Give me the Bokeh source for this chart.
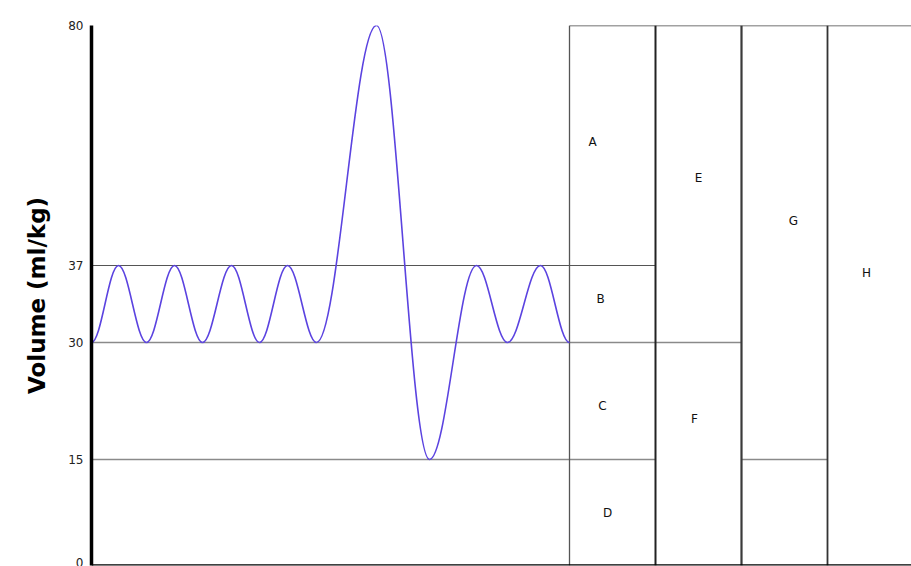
import numpy as np
from bokeh.plotting import figure
from bokeh.models import FixedTicker, Span, Range1d
from bokeh.core.properties import value
from bokeh.embed import file_html
from bokeh.resources import INLINE

# ---- data ----
# volume levels shown on the axis (ml/kg)
VOL_LEVELS = [0, 15, 30, 37, 80]
VOL_LABELS = ["0", "15", "30", "37", "80"]

# spirogram extrema: time (arbitrary units) and volume (ml/kg)
TIME_EXT = [0, 27, 55, 83, 111, 140, 168, 196, 225, 285, 338, 385, 416, 449, 478]
VOL_EXT = [30, 37, 30, 37, 30, 37, 30, 37, 30, 80, 15, 37, 30, 37, 30]

# compartment labels
LABELS = ["A", "B", "C", "D", "E", "F", "G", "H"]

# ---- layout (schematic, non-linear volume axis) ----
LEVEL_Y = [0, 106, 223, 300, 540]          # drawn height of each level
COL_EDGES = [478, 564, 650, 736, 820]       # column boundaries
LABEL_X = [501, 509, 511, 516, 607, 603, 702, 775]
LABEL_Y = [424, 267, 160, 53, 388, 147, 345, 293]


def ymap(v):
    return np.interp(v, VOL_LEVELS, LEVEL_Y)


p = figure(width=911, height=566, output_backend="svg", toolbar_location=None,
           x_range=Range1d(0, COL_EDGES[-1]), y_range=Range1d(0, LEVEL_Y[-1]),
           min_border_left=91, min_border_right=0, min_border_top=25,
           min_border_bottom=1)
p.outline_line_color = None
p.xgrid.visible = False
p.ygrid.visible = False
p.xaxis.visible = False
p.background_fill_color = "white"
p.border_fill_color = "white"

# y axis
yax = p.yaxis[0]
yax.ticker = FixedTicker(ticks=LEVEL_Y)
yax.major_label_overrides = {int(y): lab for y, lab in zip(LEVEL_Y, VOL_LABELS)}
yax.major_tick_out = 0
yax.major_tick_in = 0
yax.minor_tick_out = 0
yax.minor_tick_in = 0
yax.axis_line_color = "black"
yax.axis_line_width = 3.5
yax.major_label_text_font = "DejaVu Sans"
yax.major_label_text_font_size = "12px"
yax.major_label_text_color = "#222222"
yax.major_label_standoff = 8
yax.axis_label = "Volume (ml/kg)"
yax.axis_label_text_font = "DejaVu Sans"
yax.axis_label_text_font_size = "23px"
yax.axis_label_text_font_style = "bold"
yax.axis_label_text_color = "black"
yax.axis_label_standoff = 15

# bottom line
p.add_layout(Span(location=0, dimension="width", line_color="black", line_width=2.5))

# horizontal level lines
y15, y30, y37, y80 = ymap(15), ymap(30), ymap(37), ymap(80)
p.segment(x0=[0], y0=[y37], x1=[COL_EDGES[1]], y1=[y37], line_color="#555555", line_width=1.2)
p.segment(x0=[0], y0=[y30], x1=[COL_EDGES[2]], y1=[y30], line_color="#8a8a8a", line_width=1.6)
p.segment(x0=[0, COL_EDGES[2]], y0=[y15, y15], x1=[COL_EDGES[1], COL_EDGES[3]], y1=[y15, y15],
          line_color="#8a8a8a", line_width=1.4)
p.segment(x0=[COL_EDGES[0]], y0=[y80], x1=[COL_EDGES[-1]], y1=[y80], line_color="#444444", line_width=1.6)

# vertical column lines
p.segment(x0=COL_EDGES[:4], y0=[0] * 4, x1=COL_EDGES[:4], y1=[y80] * 4,
          line_color=["#555555", "#222222", "#3a3a3a", "#333333"],
          line_width=[1.3, 2, 2.2, 1.8])

# spirogram curve as bezier half-waves with horizontal tangents at extrema
t = np.array(TIME_EXT, dtype=float)
yd = ymap(np.array(VOL_EXT, dtype=float))
k = 0.364
dt = t[1:] - t[:-1]
p.bezier(x0=t[:-1], y0=yd[:-1], x1=t[1:], y1=yd[1:],
         cx0=t[:-1] + k * dt, cy0=yd[:-1], cx1=t[1:] - k * dt, cy1=yd[1:],
         line_color="#5b43e0", line_width=1.6)

# compartment labels
p.text(x=LABEL_X, y=LABEL_Y, text=LABELS, text_align="center", text_baseline="middle",
       text_font_size="12px", text_color="#111111", text_font=value("DejaVu Sans"))

open("out.html", "w").write(file_html(p, INLINE))
